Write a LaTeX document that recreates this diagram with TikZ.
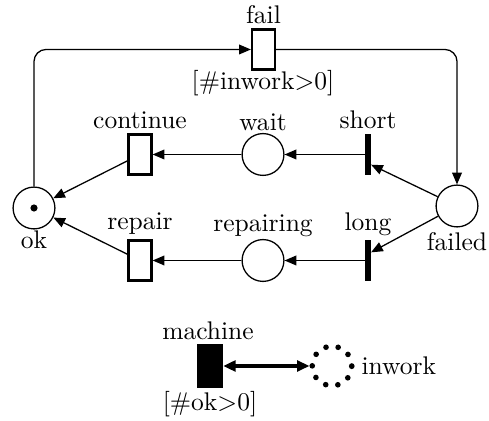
\documentclass[tikz,border=0pt]{standalone}
\usetikzlibrary{arrows.meta}
\begin{document}
\begin{tikzpicture}[x=0.392pt,y=-0.392pt,
  place/.style={circle, draw, line width=0.5pt, minimum size=16.4pt, inner sep=0pt},
  trans/.style={rectangle, draw, line width=0.9pt, minimum width=9pt, minimum height=15.7pt, inner sep=0pt},
  barT/.style={rectangle, fill, minimum width=2pt, minimum height=15.7pt, inner sep=0pt},
  arc/.style={-{Triangle[length=4.6pt,width=3.8pt]}, line width=0.5pt},
  lbl/.style={inner sep=0pt}]
\useasboundingbox (0,0) rectangle (489,421);
% places
\node[place] (ok) at (34,208) {};
\node[circle, fill, inner sep=0pt, minimum size=2.8pt] (tok) at (ok) {};
\node[place] (failed) at (457,206) {};
\node[place] (wait) at (263,154.5) {};
\node[place] (repairing) at (263,260.5) {};
% transitions
\node[trans] (fail) at (263.5,49.5) {};
\node[trans] (continue) at (140,154.5) {};
\node[trans] (repair) at (140,260.5) {};
\node[barT] (short) at (368,154.5) {};
\node[barT] (long) at (368,260.5) {};
% labels
\node[lbl] (lfail) at (263.5,15) {fail};
\node[lbl] (gfail) at (263,83) {[\#inwork$>$0]};
\node[lbl] (lcont) at (140,120) {continue};
\node[lbl] (lwait) at (263,122) {wait};
\node[lbl] (lshort) at (368,120) {short};
\node[lbl] (lrep) at (140,224) {repair};
\node[lbl] (lrepg) at (263,226) {repairing};
\node[lbl] (llong) at (368,224) {long};
\node[lbl] (lok) at (34,240) {ok};
\node[lbl] (lfailed) at (457,242) {failed};
% arcs
\draw[arc, rounded corners=4.7pt] (ok.north) -- (ok.north |- fail.west) -- (fail.west);
\draw[arc, rounded corners=4.7pt] (fail.east) -- (fail.east -| failed.north) -- (failed.north);
\draw[arc] (short) -- (wait);
\draw[arc] (wait) -- (continue);
\draw[arc] (continue) -- (ok);
\draw[arc] (long) -- (repairing);
\draw[arc] (repairing) -- (repair);
\draw[arc] (repair) -- (ok);
\draw[arc] (failed) -- ([yshift=-4pt]short.east);
\draw[arc] (failed) -- ([yshift=3.2pt]long.east);
% legend
\node[rectangle, fill, minimum width=10pt, minimum height=17.2pt, inner sep=0pt] (machine) at (210,366) {};
\node[circle, minimum size=15.5pt, inner sep=0pt, draw, line width=2.2pt, line cap=round, dash pattern=on 0pt off 4.85pt] (inwork) at (332,366) {};
\node[lbl] (lmach) at (208,331) {machine};
\node[lbl] (gmach) at (210,404) {[\#ok$>$0]};
\node[lbl, anchor=west] (linw) at (361,366) {inwork};
\draw[{Triangle[length=4.8pt,width=4.2pt]}-{Triangle[length=4.8pt,width=4.2pt]}, line width=1.2pt] (machine) -- (inwork);
\end{tikzpicture}
\end{document}
